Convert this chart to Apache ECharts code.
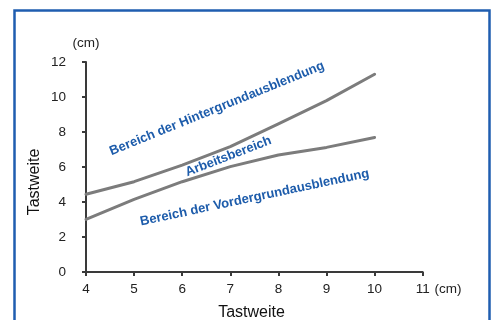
<!DOCTYPE html>
<html>
<head>
<meta charset="utf-8">
<script src="https://cdn.jsdelivr.net/npm/echarts@6/dist/echarts.min.js"></script>
<style>html,body{margin:0;padding:0;background:#fff;}#c{width:496px;height:320px;}</style>
</head>
<body>
<div id="c"></div>
<script>
const xValues = [4, 5, 6, 7, 8, 9, 10];
const upperLimit = [4.44, 5.16, 6.11, 7.16, 8.46, 9.79, 11.3];
const lowerLimit = [3.01, 4.15, 5.16, 6.02, 6.69, 7.12, 7.69];
const yTicks = [0, 2, 4, 6, 8, 10, 12];
const xTicks = [4, 5, 6, 7, 8, 9, 10, 11];
const regionLabels = ['Bereich der Hintergrundausblendung', 'Arbeitsbereich', 'Bereich der Vordergrundausblendung'];
const axisTitle = 'Tastweite';
const unit = '(cm)';

const FONT = "'Liberation Sans', Arial, sans-serif";
const BLUE = '#1d5cab';
const chart = echarts.init(document.getElementById('c'), null, {renderer: 'canvas'});

function pairs(ys) { return xValues.map((x, i) => [x, ys[i]]); }

const axisCommon = {
  axisLine: {show: true, lineStyle: {color: '#3a3a3a', width: 2}},
  axisTick: {show: true, length: 4, lineStyle: {color: '#3a3a3a', width: 2}},
  splitLine: {show: false},
  axisLabel: {color: '#222', fontFamily: FONT, fontSize: 13.5}
};

chart.setOption({
  animation: false,
  backgroundColor: '#fff',
  grid: {left: 86, top: 62, right: 73.3, bottom: 48, containLabel: false},
  xAxis: Object.assign({}, axisCommon, {
    type: 'value', min: xTicks[0], max: xTicks[xTicks.length - 1], interval: 1,
    axisLabel: Object.assign({}, axisCommon.axisLabel, {margin: 10})
  }),
  yAxis: Object.assign({}, axisCommon, {
    type: 'value', min: yTicks[0], max: yTicks[yTicks.length - 1], interval: 2,
    name: unit, nameLocation: 'end', nameGap: 12,
    nameTextStyle: {color: '#222', fontFamily: FONT, fontSize: 13.5, align: 'center'},
    axisLabel: Object.assign({}, axisCommon.axisLabel, {margin: 20})
  }),
  series: [
    {type: 'line', data: pairs(upperLimit), symbol: 'none', smooth: false,
     lineStyle: {color: '#7c7c7c', width: 3, cap: 'round', join: 'round'}},
    {type: 'line', data: pairs(lowerLimit), symbol: 'none', smooth: false,
     lineStyle: {color: '#7c7c7c', width: 3, cap: 'round', join: 'round'}}
  ],
  graphic: [
    {type: 'rect', shape: {x: 14.5, y: 10.5, width: 475, height: 340},
     style: {fill: null, stroke: '#1f5db0', lineWidth: 2.5}, silent: true, z: 10},
    {type: 'text', x: 217, y: 108.5, rotation: 22.1 * Math.PI / 180,
     style: {text: regionLabels[0], fill: BLUE, font: 'bold 13px ' + FONT, textAlign: 'center', textVerticalAlign: 'middle'}},
    {type: 'text', x: 228.5, y: 156.5, rotation: 21 * Math.PI / 180,
     style: {text: regionLabels[1], fill: BLUE, font: 'bold 13px ' + FONT, textAlign: 'center', textVerticalAlign: 'middle'}},
    {type: 'text', x: 254.6, y: 197.6, rotation: 12 * Math.PI / 180,
     style: {text: regionLabels[2], fill: BLUE, font: 'bold 13px ' + FONT, textAlign: 'center', textVerticalAlign: 'middle'}},
    {type: 'text', x: 34.5, y: 182, rotation: Math.PI / 2,
     style: {text: axisTitle, fill: '#111', font: '16px ' + FONT, textAlign: 'center', textVerticalAlign: 'middle'}},
    {type: 'text', x: 251.5, y: 313,
     style: {text: axisTitle, fill: '#111', font: '16px ' + FONT, textAlign: 'center', textVerticalAlign: 'middle'}},
    {type: 'text', x: 434.5, y: 289,
     style: {text: unit, fill: '#222', font: '13.5px ' + FONT, textAlign: 'left', textVerticalAlign: 'middle'}}
  ]
});
</script>
</body>
</html>
